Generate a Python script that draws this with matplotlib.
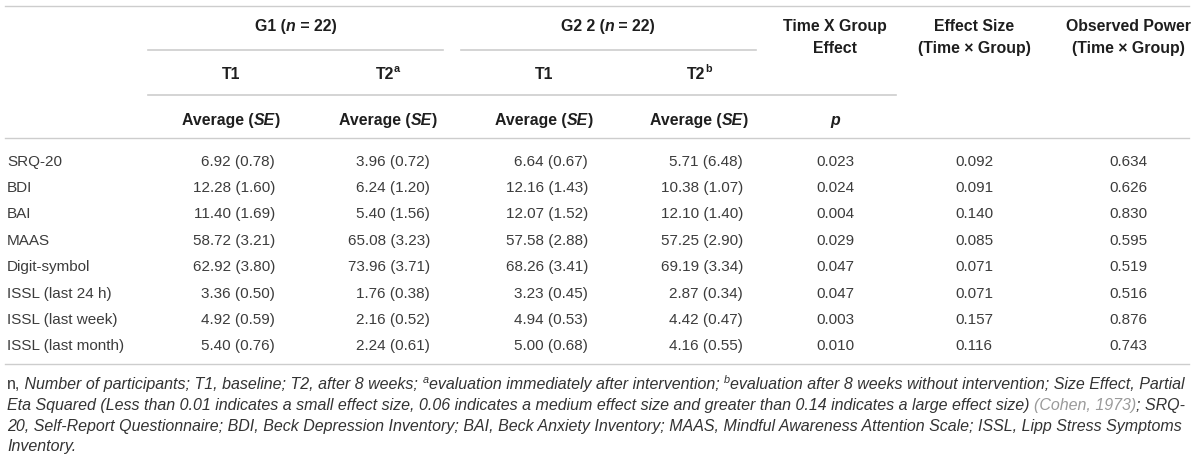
import matplotlib
matplotlib.use("Agg")
import matplotlib.pyplot as plt

plt.rcParams['font.family'] = ['Liberation Sans', 'DejaVu Sans']

# table data
measures = ["SRQ-20", "BDI", "BAI", "MAAS", "Digit-symbol",
            "ISSL (last 24 h)", "ISSL (last week)", "ISSL (last month)"]
g1_t1_mean = [6.92, 12.28, 11.40, 58.72, 62.92, 3.36, 4.92, 5.40]
g1_t1_se = [0.78, 1.60, 1.69, 3.21, 3.80, 0.50, 0.59, 0.76]
g1_t2_mean = [3.96, 6.24, 5.40, 65.08, 73.96, 1.76, 2.16, 2.24]
g1_t2_se = [0.72, 1.20, 1.56, 3.23, 3.71, 0.38, 0.52, 0.61]
g2_t1_mean = [6.64, 12.16, 12.07, 57.58, 68.26, 3.23, 4.94, 5.00]
g2_t1_se = [0.67, 1.43, 1.52, 2.88, 3.41, 0.45, 0.53, 0.68]
g2_t2_mean = [5.71, 10.38, 12.10, 57.25, 69.19, 2.87, 4.42, 4.16]
g2_t2_se = [6.48, 1.07, 1.40, 2.90, 3.34, 0.34, 0.47, 0.55]
p_values = [0.023, 0.024, 0.004, 0.029, 0.047, 0.047, 0.003, 0.010]
effect_size = [0.092, 0.091, 0.140, 0.085, 0.071, 0.071, 0.157, 0.116]
obs_power = [0.634, 0.626, 0.830, 0.595, 0.519, 0.516, 0.876, 0.743]

HEAD = '#1e1e1e'
BODY = '#3c3c3c'
LINE = '#cdcdcd'
FS = 11
HS = 11.4

fig = plt.figure(figsize=(12, 4.61), dpi=100)
ax = fig.add_axes([0, 0, 1, 1])
ax.set_xlim(0, 1200)
ax.set_ylim(461, 0)
ax.axis('off')
renderer = fig.canvas.get_renderer()


def text_width(s, **kw):
    # width incl. spaces: measure between two bars
    t1 = ax.text(0, 0, '|' + s + '|', **kw)
    t2 = ax.text(0, 0, '||', **kw)
    w = t1.get_window_extent(renderer).width - t2.get_window_extent(renderer).width
    t1.remove()
    t2.remove()
    return w


def rich(x, y, pieces, ha='left', size=FS, color=BODY, weight='normal'):
    # pieces: (text, style, color or None, superscript flag)
    items = []
    for p in pieces:
        s, style = p[0], p[1]
        col = p[2] if len(p) > 2 and p[2] else color
        sup = len(p) > 3 and p[3]
        fs = size * 0.68 if sup else size
        kw = dict(fontsize=fs, style=style, weight=weight, color=col)
        items.append((s, kw, sup, text_width(s, **kw)))
    total = sum(i[3] for i in items)
    if ha == 'center':
        x = x - total / 2
    elif ha == 'right':
        x = x - total
    for s, kw, sup, w in items:
        yy = y - size * 0.55 if sup else y
        ax.text(x, yy, s, ha='left', va='baseline', **kw)
        x += w


def base(yc, size=FS):
    return yc + size * 1.389 * 0.36


# horizontal rules
ax.plot([5, 1189], [6, 6], color=LINE, lw=1.0)
ax.plot([148, 443], [50, 50], color=LINE, lw=1.2)
ax.plot([461, 756], [50, 50], color=LINE, lw=1.2)
ax.plot([148, 896], [95, 95], color=LINE, lw=1.2)
ax.plot([5, 1189], [138, 138], color=LINE, lw=1.0)
ax.plot([5, 1189], [364, 364], color=LINE, lw=1.0)

# header
rich(296, base(25, HS), [("G1 (", 'normal'), ("n", 'italic'), (" = 22)", 'normal')],
     ha='center', size=HS, color=HEAD, weight='bold')
rich(608, base(25, HS), [("G2 2 (", 'normal'), ("n", 'italic'), (" = 22)", 'normal')],
     ha='center', size=HS, color=HEAD, weight='bold')
for xc, l1, l2 in [(835, "Time X Group", "Effect"),
                   (974, "Effect Size", "(Time \u00d7 Group)"),
                   (1128, "Observed Power", "(Time \u00d7 Group)")]:
    ax.text(xc, base(25, HS), l1, ha='center', va='baseline', fontsize=HS,
            weight='bold', color=HEAD)
    ax.text(xc, base(47.5, HS), l2, ha='center', va='baseline', fontsize=HS,
            weight='bold', color=HEAD)

col_centers = [231, 388, 544, 699]
time_labels = [("T1", None), ("T2", "a"), ("T1", None), ("T2", "b")]
for xc, (lab, sup) in zip(col_centers, time_labels):
    pcs = [(lab, 'normal')]
    if sup:
        pcs.append((sup, 'normal', None, True))
    rich(xc, base(73, HS), pcs, ha='center', size=HS, color=HEAD, weight='bold')
    rich(xc, base(119, HS), [("Average (", 'normal'), ("SE", 'italic'), (")", 'normal')],
         ha='center', size=HS, color=HEAD, weight='bold')
rich(835, base(119, HS), [("p", 'italic')], ha='center', size=HS, color=HEAD,
     weight='bold')

# body rows
right_edges = [275, 430, 588, 743]
groups = [(g1_t1_mean, g1_t1_se), (g1_t2_mean, g1_t2_se),
          (g2_t1_mean, g2_t1_se), (g2_t2_mean, g2_t2_se)]
for i, name in enumerate(measures):
    yb = base(160 + 26.4 * i)
    ax.text(7, yb, name, ha='left', va='baseline', fontsize=FS, color=BODY)
    for xr, (m, se) in zip(right_edges, groups):
        ax.text(xr, yb, "{:.2f} ({:.2f})".format(m[i], se[i]), ha='right',
                va='baseline', fontsize=FS, color=BODY)
    ax.text(835, yb, "{:.3f}".format(p_values[i]), ha='center', va='baseline',
            fontsize=FS, color=BODY)
    ax.text(974, yb, "{:.3f}".format(effect_size[i]), ha='center', va='baseline',
            fontsize=FS, color=BODY)
    ax.text(1128, yb, "{:.3f}".format(obs_power[i]), ha='center', va='baseline',
            fontsize=FS, color=BODY)

# footnote
FN = 11.5
GREY = '#9a9a9a'
foot = [
    [("n,", 'normal'), (" Number of participants; T1, baseline; T2, after 8 weeks; ", 'italic'),
     ("a", 'italic', None, True), ("evaluation immediately after intervention; ", 'italic'),
     ("b", 'italic', None, True),
     ("evaluation after 8 weeks without intervention; Size Effect, Partial", 'italic')],
    [("Eta Squared (Less than 0.01 indicates a small effect size, 0.06 indicates a medium "
      "effect size and greater than 0.14 indicates a large effect size) ", 'italic'),
     ("(Cohen, 1973)", 'italic', GREY), ("; SRQ-", 'italic')],
    [("20, Self-Report Questionnaire; BDI, Beck Depression Inventory; BAI, Beck Anxiety "
      "Inventory; MAAS, Mindful Awareness Attention Scale; ISSL, Lipp Stress Symptoms", 'italic')],
    [("Inventory.", 'italic')],
]
for k, line in enumerate(foot):
    rich(7, base(383.5 + 20.7 * k, FN), line, size=FN, color='#333333')

fig.savefig("out.png", dpi=100)
